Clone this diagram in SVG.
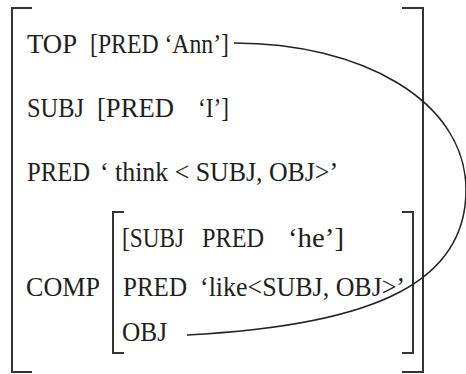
<svg xmlns="http://www.w3.org/2000/svg" width="466" height="374" viewBox="0 0 466 374">
<style>
text { font-family: "Liberation Serif", "Times New Roman", serif; font-size: 27.5px; fill: #1e1e1e; }
.br { fill: none; stroke: #333; stroke-width: 2; }
.conn { fill: none; stroke: #222; stroke-width: 1.5; }
</style>
<rect width="466" height="374" fill="#fff"/>
<g id="outer-fstructure">
  <path class="br" d="M32,8 H12 V372 H32"/>
  <path class="br" d="M402,8 H423 V372 H402"/>
</g>
<g id="row-top">
  <text x="27" y="53" textLength="50" lengthAdjust="spacingAndGlyphs">TOP</text>
  <text x="90" y="53" textLength="139" lengthAdjust="spacingAndGlyphs">[PRED ‘Ann’]</text>
</g>
<g id="row-subj">
  <text x="27" y="117" textLength="57" lengthAdjust="spacingAndGlyphs">SUBJ</text>
  <text x="97" y="117" textLength="77" lengthAdjust="spacingAndGlyphs">[PRED</text>
  <text x="198" y="117" textLength="31" lengthAdjust="spacingAndGlyphs">‘I’]</text>
</g>
<g id="row-pred">
  <text x="27" y="181" textLength="63" lengthAdjust="spacingAndGlyphs">PRED</text>
  <text x="100" y="181" textLength="238" lengthAdjust="spacingAndGlyphs">‘ think &lt; SUBJ, OBJ&gt;’</text>
</g>
<g id="row-comp">
  <text x="26" y="296" textLength="74" lengthAdjust="spacingAndGlyphs">COMP</text>
  <g id="comp-fstructure">
    <path class="br" d="M124,212 H113 V353 H124"/>
    <path class="br" d="M402,212 H413 V353 H402"/>
    <text x="122" y="247" textLength="62" lengthAdjust="spacingAndGlyphs">[SUBJ</text>
    <text x="202" y="247" textLength="62" lengthAdjust="spacingAndGlyphs">PRED</text>
    <text x="288" y="247" textLength="56" lengthAdjust="spacingAndGlyphs">‘he’]</text>
    <text x="123" y="296" textLength="64" lengthAdjust="spacingAndGlyphs">PRED</text>
    <text x="200" y="296" textLength="205" lengthAdjust="spacingAndGlyphs">‘like&lt;SUBJ, OBJ&gt;’</text>
    <text x="122" y="341" textLength="45" lengthAdjust="spacingAndGlyphs">OBJ</text>
  </g>
</g>
<g id="connectors">
  <path class="conn" d="M234,43 C360,43 466,100 466,190 C466,280 380,325 187,335"/>
</g>
</svg>
